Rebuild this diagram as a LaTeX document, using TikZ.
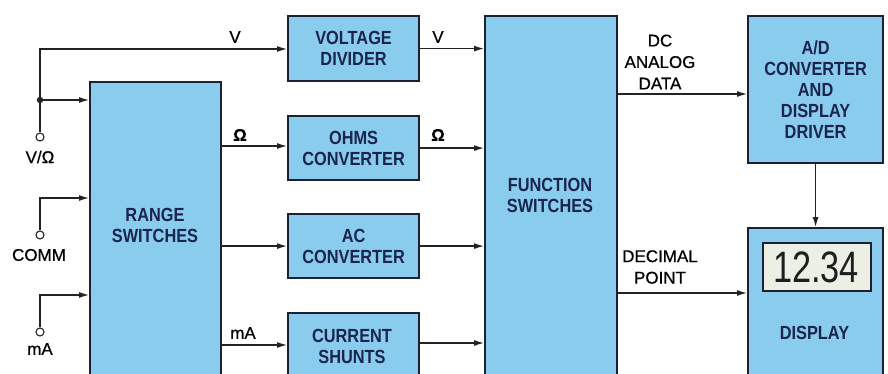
\documentclass[tikz,border=0pt]{standalone}
\usepackage{fontspec}
\setmainfont{Liberation Sans}
\newfontfamily\boxfont{Liberation Sans}[FakeStretch=0.86]
\newfontfamily\labfont{Liberation Sans}[FakeBold=0.6]
\newfontfamily\lcdfont{Liberation Sans}[FakeStretch=0.78]
\usetikzlibrary{arrows.meta}
\definecolor{blkfill}{RGB}{138,204,238}
\definecolor{blkline}{RGB}{28,32,48}
\definecolor{blktext}{RGB}{26,36,76}
\definecolor{wire}{RGB}{35,35,35}
\definecolor{lcdfill}{RGB}{236,240,228}
\begin{document}
\begin{tikzpicture}[x=1pt,y=-1pt,
 blk/.style={draw=blkline, line width=2.2pt, fill=blkfill, inner sep=0pt, anchor=north west},
 btxt/.style={text=blktext, font=\boxfont\bfseries\fontsize{19}{21}\selectfont, align=center, inner sep=0pt},
 lbl/.style={text=black, font=\labfont\fontsize{17}{21.5}\selectfont, align=center, inner sep=0pt},
 conn/.style={draw=wire, line width=1.25pt, -{Latex[length=10pt,width=6pt]}},
 term/.style={circle, draw=wire, line width=1.1pt, fill=white, minimum size=8pt, inner sep=0pt}]
\useasboundingbox (0,0) rectangle (888,374);
\clip (0,0) rectangle (888,374);
% blocks
\node[blk, minimum width=131pt, minimum height=300pt] (range) at (89,81) {};
\node[blk, btxt, minimum width=131pt, minimum height=65pt] (vd) at (287,15) {VOLTAGE\\DIVIDER};
\node[blk, btxt, minimum width=131pt, minimum height=64pt] (oc) at (287,115) {OHMS\\CONVERTER};
\node[blk, btxt, minimum width=131pt, minimum height=64pt] (ac) at (287,213) {AC\\CONVERTER};
\node[blk, minimum width=131pt, minimum height=70pt] (cs) at (287,312) {};
\node[blk, minimum width=132pt, minimum height=366pt] (fs) at (484,15) {};
\node[blk, btxt, minimum width=135pt, minimum height=147pt] (ad) at (747,15) {A/D\\CONVERTER\\AND\\DISPLAY\\DRIVER};
\node[blk, minimum width=135pt, minimum height=155pt] (disp) at (747,227) {};
\node[blk, fill=lcdfill, line width=1.6pt, minimum width=108pt, minimum height=48pt] (lcd) at (762,242) {};
% texts of clipped blocks
\node[btxt] (rangeT) at (155,225) {RANGE\\SWITCHES};
\node[btxt] (csT) at (352,346) {CURRENT\\SHUNTS};
\node[btxt] (fsT) at (550,195) {FUNCTION\\SWITCHES};
\node[btxt] (dispT) at (814.5,333) {DISPLAY};
\node[inner sep=0pt, text={rgb,255:red,30;green,30;blue,30}, font=\lcdfont\fontsize{44}{44}\selectfont] (lcdT) at (816,267) {12.34};
% terminals
\node[term] (tv) at (40,137) {};
\node[term] (tc) at (40,235) {};
\node[term] (tm) at (40,332) {};
\coordinate (jn) at (40,100);
\coordinate (cc) at (40,198);
\coordinate (mc) at (40,295);
\coordinate (vy) at (40,49);
\draw[conn] (tv.north) -- (vy) -- (vy -| vd.west);
\fill[wire] (jn) circle (3.2pt);
\draw[conn] (jn) -- (jn -| range.west);
\draw[conn] (tc.north) -- (cc) -- (cc -| range.west);
\draw[conn] (tm.north) -- (mc) -- (mc -| range.west);
% range outputs
\coordinate (ro) at (0,146);
\coordinate (rm) at (0,345);
\draw[conn] (ro -| range.east) -- (ro -| oc.west);
\draw[conn] (ac.west -| range.east) -- (ac.west);
\draw[conn] (rm -| range.east) -- (rm -| cs.west);
% middle outputs
\coordinate (co) at (0,343);
\draw[conn] (vd.east) -- (vd.east -| fs.west);
\draw[conn] (oc.east) -- (oc.east -| fs.west);
\draw[conn] (ac.east) -- (ac.east -| fs.west);
\draw[conn] (co -| cs.east) -- (co -| fs.west);
% function outputs
\coordinate (dcy) at (0,94);
\coordinate (dpy) at (0,293);
\draw[conn] (dcy -| fs.east) -- (dcy -| ad.west);
\draw[conn] (dpy -| fs.east) -- (dpy -| disp.west);
\draw[conn] (ad.south) -- (disp.north);
% labels
\node[lbl] (lV1) at (235,37) {V};
\node[lbl, font=\labfont\bfseries\fontsize{17}{21}\selectfont] (lO1) at (240,135) {Ω};
\node[lbl] (lmA1) at (243,333) {mA};
\node[lbl] (lV2) at (438,37) {V};
\node[lbl, font=\labfont\bfseries\fontsize{17}{21}\selectfont] (lO2) at (438,135) {Ω};
\node[lbl] (lVO) at (40,157) {V/Ω};
\node[lbl] (lCO) at (39,255) {COMM};
\node[lbl] (lmA) at (40,349) {mA};
\node[lbl] (lDC) at (660,62) {DC\\ANALOG\\DATA};
\node[lbl] (lDP) at (660,267) {DECIMAL\\POINT};
\end{tikzpicture}
\end{document}
